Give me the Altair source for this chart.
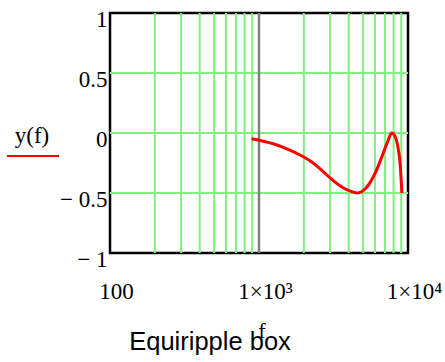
import altair as alt
import pandas as pd

# Frequency response samples (Hz) and the plotted value y(f)
freq = [891, 1245, 1610, 2000, 2260, 2640, 3090, 3600, 4100, 4560, 5190, 6070,
        6730, 7280, 7780, 8200, 8510, 8870, 9100]
resp = [-0.048, -0.09, -0.142, -0.20, -0.242, -0.311, -0.388, -0.45, -0.485, -0.5,
        -0.463, -0.325, -0.187, -0.076, 0.0, -0.03, -0.10, -0.27, -0.5]

# Grid positions and axis labels
x_grid = [200, 300, 400, 500, 600, 700, 800, 900,
          2000, 3000, 4000, 5000, 6000, 7000, 8000, 9000]
x_marker = [1000]
y_grid = [-0.5, 0, 0.5]
x_labels = [100, 1000, 10000]
y_labels = [-1, -0.5, 0, 0.5, 1]

W, H = 298, 240
SERIF = "Liberation Serif"

x_scale = alt.Scale(type="log", domain=[100, 10000], nice=False)
y_scale = alt.Scale(domain=[-1, 1], nice=False)

x_axis = alt.Axis(
    values=x_labels,
    labelExpr="datum.value == 100 ? '100' : datum.value == 1000 ? '1×10³' : '1×10⁴'",
    title=None, grid=False, ticks=False, domain=False,
    labelFont=SERIF, labelFontSize=23, labelColor="black",
    labelBaseline="alphabetic", labelPadding=45, labelOffset=6,
    labelFlush=False, labelOverlap=False,
)
y_axis = alt.Axis(
    values=y_labels,
    labelExpr="datum.value < 0 ? '− ' + abs(datum.value) : '' + datum.value",
    title=None, grid=False, ticks=False, domain=False,
    labelFont=SERIF, labelFontSize=23, labelColor="black",
    labelPadding=3, labelOffset=6, labelFlush=False, labelOverlap=False,
)

green = "#80f080"

grid_v = alt.Chart(pd.DataFrame({"f": x_grid})).mark_rule(
    color=green, strokeWidth=2
).encode(x=alt.X("f:Q", scale=x_scale, axis=x_axis))

grid_h = alt.Chart(pd.DataFrame({"y": y_grid})).mark_rule(
    color=green, strokeWidth=2
).encode(y=alt.Y("y:Q", scale=y_scale, axis=y_axis))

marker = alt.Chart(pd.DataFrame({"f": x_marker})).mark_rule(
    color="#808080", strokeWidth=2.5
).encode(x=alt.X("f:Q", scale=x_scale, axis=x_axis))

curve = alt.Chart(pd.DataFrame({"f": freq, "y": resp})).mark_line(
    color="#ff0000", strokeWidth=3, interpolate="monotone"
).encode(
    x=alt.X("f:Q", scale=x_scale, axis=x_axis),
    y=alt.Y("y:Q", scale=y_scale, axis=y_axis),
)

# Trace legend on the left: name with a red underline
legend_text = alt.Chart(pd.DataFrame({"t": ["y(f)"]})).mark_text(
    font=SERIF, fontSize=23, color="black", align="center", baseline="alphabetic"
).encode(text="t:N", x=alt.value(-78), y=alt.value(130))

legend_line = alt.Chart(pd.DataFrame({"t": ["y(f)"]})).mark_rule(
    color="#ff0000", strokeWidth=2
).encode(x=alt.value(-103), x2=alt.value(-51), y=alt.value(143))

# Axis variable name and caption below the plot
x_name = alt.Chart(pd.DataFrame({"t": ["f"]})).mark_text(
    font=SERIF, fontSize=22, color="black", align="center", baseline="alphabetic"
).encode(text="t:N", x=alt.value(W / 2 + 3), y=alt.value(325))

caption = alt.Chart(pd.DataFrame({"t": ["Equiripple box"]})).mark_text(
    font="Liberation Sans", fontSize=25.5, color="black", align="center", baseline="alphabetic"
).encode(text="t:N", x=alt.value(100), y=alt.value(337))

chart = alt.layer(
    grid_v, grid_h, marker, curve, legend_text, legend_line, x_name, caption
).properties(
    width=W, height=H,
    padding={"left": 110, "top": 13, "right": 37, "bottom": 109},
    autosize=alt.AutoSizeParams(type="none"),
    background="white",
).configure_view(
    stroke="black", strokeWidth=2.5
)

chart.save("out.html", embed_options={"renderer": "svg", "actions": False})
